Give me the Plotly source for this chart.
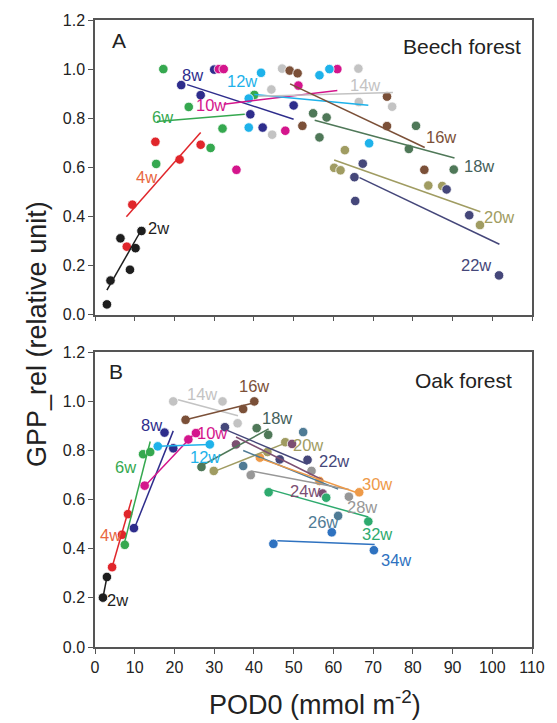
import plotly.graph_objects as go

# ---- Beech forest (panel A) ----
beech_weeks = ["2w", "4w", "6w", "8w", "10w", "12w", "14w", "16w", "18w", "20w", "22w"]
beech_pod0 = [
    [3.0, 3.9, 6.4, 8.8, 10.2, 11.7],
    [8.0, 9.4, 15.2, 21.3, 26.6],
    [15.4, 17.2, 23.6, 29.1, 32.1, 40.1],
    [21.7, 26.6, 30.0, 39.1, 42.2, 50.0],
    [31.2, 32.4, 35.6, 47.9, 51.2, 61.0],
    [38.7, 38.7, 41.8, 56.5, 59.0, 69.0],
    [44.4, 44.6, 47.1, 66.4, 66.3, 74.8],
    [49.0, 51.0, 52.2, 73.5, 73.5, 82.9],
    [54.9, 56.5, 58.3, 79.0, 80.8, 90.3],
    [60.2, 61.8, 62.9, 83.9, 87.4, 96.9],
    [65.3, 65.5, 67.4, 88.5, 94.2, 101.7],
]
beech_gpp = [
    [0.042, 0.139, 0.311, 0.183, 0.271, 0.341],
    [0.277, 0.448, 0.704, 0.632, 0.692],
    [0.614, 1.0, 0.846, 0.679, 0.758, 0.895],
    [0.935, 0.894, 0.998, 0.816, 0.762, 0.852],
    [1.0, 1.0, 0.59, 0.749, 0.933, 1.0],
    [0.88, 0.762, 0.985, 0.975, 1.0, 0.698],
    [0.917, 0.733, 1.002, 0.866, 1.002, 0.847],
    [0.994, 0.983, 0.769, 0.888, 0.768, 0.59],
    [0.82, 0.722, 0.803, 0.675, 0.769, 0.591],
    [0.598, 0.588, 0.67, 0.526, 0.524, 0.365],
    [0.56, 0.463, 0.615, 0.51, 0.405, 0.16],
]
# fitted line end points per week
beech_fit_x = [
    [3.0, 11.9], [7.9, 26.6], [15.6, 37.7], [23.2, 50.0], [32.4, 61.0], [40.1, 68.8],
    [41.0, 75.0], [49.1, 83.0], [55.3, 90.5], [60.2, 97.0], [66.6, 101.8],
]
beech_fit_y = [
    [0.10, 0.352], [0.399, 0.742], [0.787, 0.816], [0.937, 0.796], [0.857, 0.913], [0.897, 0.853],
    [0.89, 0.905], [0.94, 0.681], [0.792, 0.638], [0.63, 0.419], [0.558, 0.287],
]

# ---- Oak forest (panel B) ----
oak_weeks = ["2w", "4w", "6w", "8w", "10w", "12w", "14w", "16w", "18w",
             "20w", "22w", "24w", "26w", "28w", "30w", "32w", "34w"]
oak_pod0 = [
    [2.0, 3.0],
    [4.3, 6.8, 8.3],
    [7.5, 12.1, 13.9],
    [9.8, 17.5, 19.7],
    [12.5, 23.5, 25.4],
    [15.8, 28.9],
    [19.7, 32.1, 35.9],
    [22.8, 37.3, 40.1],
    [26.8, 40.7, 43.6],
    [29.9, 43.4, 47.9],
    [32.7, 46.5, 53.5],
    [35.5, 49.6, 57.3],
    [37.3, 52.4, 61.2],
    [39.2, 54.5, 63.9],
    [41.5, 56.5, 66.5],
    [43.7, 58.2, 68.8],
    [44.9, 59.6, 70.2],
]
oak_gpp = [
    [0.201, 0.285],
    [0.325, 0.457, 0.541],
    [0.416, 0.785, 0.794],
    [0.484, 0.873, 0.809],
    [0.657, 0.845, 0.871],
    [0.817, 0.825],
    [1.0, 1.0, 0.911],
    [0.925, 0.969, 1.0],
    [0.733, 0.891, 0.864],
    [0.717, 0.794, 0.834],
    [0.895, 0.764, 0.762],
    [0.825, 0.827, 0.625],
    [0.737, 0.875, 0.534],
    [0.70, 0.717, 0.612],
    [0.771, 0.676, 0.63],
    [0.63, 0.608, 0.511],
    [0.42, 0.467, 0.394],
]
oak_fit_x = [
    [2.0, 3.0], [4.3, 9.2], [7.5, 13.9], [9.6, 19.7], [12.5, 24.5], [15.8, 28.9],
    [20.9, 36.0], [22.8, 40.1], [26.8, 43.7], [29.9, 47.9], [32.7, 53.5], [35.5, 57.3],
    [37.3, 61.2], [39.2, 63.9], [41.5, 66.5], [43.7, 68.8], [45.9, 70.4],
]
oak_fit_y = [
    [0.201, 0.285], [0.325, 0.60], [0.43, 0.837], [0.47, 0.88], [0.655, 0.86], [0.817, 0.825],
    [1.007, 0.942], [0.925, 0.995], [0.738, 0.888], [0.714, 0.83], [0.886, 0.744], [0.855, 0.68],
    [0.80, 0.643], [0.717, 0.641], [0.768, 0.625], [0.643, 0.529], [0.433, 0.417],
]

x_ticks = [0, 10, 20, 30, 40, 50, 60, 70, 80, 90, 100, 110]
y_ticks = [0.0, 0.2, 0.4, 0.6, 0.8, 1.0, 1.2]

# ---- styling ----
week_colors = {
    "2w": "#1e1e1e", "4w": "#e0262b", "6w": "#35a84f", "8w": "#2e2d8c",
    "10w": "#d4158c", "12w": "#1eb2ea", "14w": "#c3c3c3", "16w": "#7b5038",
    "18w": "#4f7858", "20w": "#a09c62", "22w": "#45477a", "24w": "#7c4f72",
    "26w": "#4f7b95", "28w": "#979797", "30w": "#ee9a48", "32w": "#2eaa6e",
    "34w": "#2e72c0",
}
label_colors = dict(week_colors)
label_colors["4w"] = "#e8673f"
label_colors["18w"] = "#44605a"

# week label anchor points (data units)
beech_label_pos = {
    "2w": (16.0, 0.352), "4w": (13.0, 0.56), "6w": (17.0, 0.803), "8w": (24.6, 0.978),
    "10w": (29.1, 0.853), "12w": (36.9, 0.951), "14w": (68.0, 0.935), "16w": (87.2, 0.722),
    "18w": (96.6, 0.607), "20w": (101.6, 0.399), "22w": (95.8, 0.203),
}
oak_label_pos = {
    "2w": (5.7, 0.192), "4w": (4.0, 0.457), "6w": (7.8, 0.733), "8w": (14.3, 0.906),
    "10w": (29.5, 0.872), "12w": (27.8, 0.774), "14w": (27.0, 1.032), "16w": (40.1, 1.063),
    "18w": (45.9, 0.933), "20w": (53.6, 0.821), "22w": (60.2, 0.756), "24w": (52.8, 0.636),
    "26w": (57.3, 0.508), "28w": (67.2, 0.572), "30w": (70.9, 0.663), "32w": (70.9, 0.461),
    "34w": (75.8, 0.356),
}

FONT = "Arial, 'Liberation Sans', sans-serif"
fig = go.Figure()


def add_panel(weeks, xs, ys, fit_x, fit_y, xa, ya):
    for w, x, y in zip(weeks, xs, ys):
        fig.add_trace(go.Scatter(
            x=x, y=y, mode="markers", xaxis=xa, yaxis=ya, showlegend=False,
            marker=dict(size=9.5, color=week_colors[w], line=dict(color="white", width=0.8)),
        ))
    for w, x, y in zip(weeks, fit_x, fit_y):
        fig.add_trace(go.Scatter(
            x=x, y=y, mode="lines", xaxis=xa, yaxis=ya, showlegend=False,
            line=dict(color=week_colors[w], width=1.5),
        ))


add_panel(beech_weeks, beech_pod0, beech_gpp, beech_fit_x, beech_fit_y, "x", "y")
add_panel(oak_weeks, oak_pod0, oak_gpp, oak_fit_x, oak_fit_y, "x2", "y2")

annotations = []
for w in beech_weeks:
    lx, ly = beech_label_pos[w]
    annotations.append(dict(x=lx, y=ly, xref="x", yref="y", text=w, showarrow=False,
                            font=dict(family=FONT, size=16.5, color=label_colors[w])))
for w in oak_weeks:
    lx, ly = oak_label_pos[w]
    annotations.append(dict(x=lx, y=ly, xref="x2", yref="y2", text=w, showarrow=False,
                            font=dict(family=FONT, size=16.5, color=label_colors[w])))

annotations += [
    dict(x=6.0, y=1.117, xref="x", yref="y", text="A", showarrow=False,
         font=dict(family=FONT, size=21, color="#222")),
    dict(x=92.3, y=1.092, xref="x", yref="y", text="Beech forest", showarrow=False,
         font=dict(family=FONT, size=21, color="#222")),
    dict(x=5.3, y=1.121, xref="x2", yref="y2", text="B", showarrow=False,
         font=dict(family=FONT, size=21, color="#222")),
    dict(x=92.8, y=1.084, xref="x2", yref="y2", text="Oak forest", showarrow=False,
         font=dict(family=FONT, size=21, color="#222")),
    dict(x=-0.134, y=0.5, xref="paper", yref="paper", text="GPP_rel (relative unit)",
         textangle=-90, showarrow=False, xanchor="center", yanchor="middle",
         font=dict(family=FONT, size=27, color="#222")),
    dict(x=0.503, y=-0.089, xref="paper", yref="paper", text="POD0 (mmol m<sup>-2</sup>)",
         showarrow=False, xanchor="center", yanchor="middle",
         font=dict(family=FONT, size=27, color="#222")),
]

axis_common = dict(
    range=[0, 110], tickvals=x_ticks, ticks="outside", ticklen=5, tickwidth=1.2,
    tickcolor="#555", showline=True, linecolor="#555", linewidth=1.5, mirror=True,
    showgrid=False, zeroline=False, tickfont=dict(family=FONT, size=16, color="#222"),
)
yaxis_common = dict(
    range=[0, 1.2], tickvals=y_ticks, tickformat=".1f", ticks="outside", ticklen=5,
    tickwidth=1.2, tickcolor="#555", showline=True, linecolor="#555", linewidth=1.5,
    mirror=True, showgrid=False, zeroline=False,
    tickfont=dict(family=FONT, size=16, color="#222"),
)

fig.update_layout(
    width=557, height=723,
    margin=dict(l=95, r=15, t=15, b=76),
    paper_bgcolor="white", plot_bgcolor="white",
    xaxis=dict(axis_common, anchor="y", showticklabels=False),
    yaxis=dict(yaxis_common, domain=[0.53, 1.0], anchor="x"),
    xaxis2=dict(axis_common, anchor="y2"),
    yaxis2=dict(yaxis_common, domain=[0.0, 0.47], anchor="x2"),
    annotations=annotations,
)

fig.write_html("out.html")
